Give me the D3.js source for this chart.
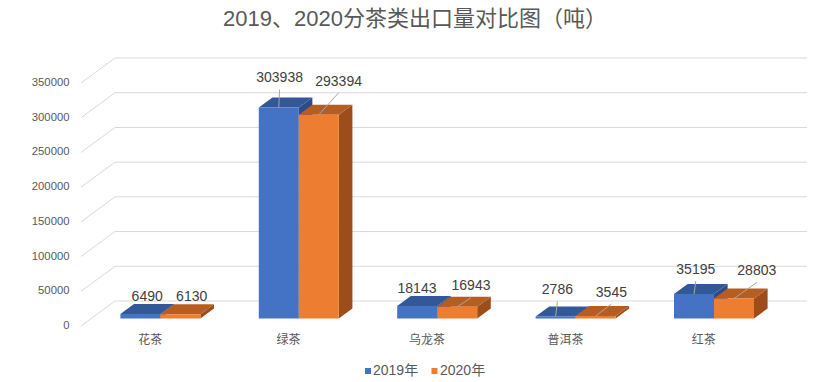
<!DOCTYPE html>
<html>
<head>
<meta charset="utf-8">
<script src="https://cdn.jsdelivr.net/npm/d3@7"></script>
<style>
  html, body { margin: 0; padding: 0; background: #fff; }
  svg { display: block; font-family: "Liberation Sans", "Noto Sans CJK SC", sans-serif; }
</style>
</head>
<body>
<svg id="chart" width="826" height="382"></svg>
<script>
// ---- data ----
const title = "2019、2020分茶类出口量对比图（吨）";
const categories = ["花茶", "绿茶", "乌龙茶", "普洱茶", "红茶"];
const seriesNames = ["2019年", "2020年"];
const values2019 = [6490, 303938, 18143, 2786, 35195];
const values2020 = [6130, 293394, 16943, 3545, 28803];
const yTicks = [0, 50000, 100000, 150000, 200000, 250000, 300000, 350000];

// ---- layout (not data) ----
const W = 826, H = 382;
const frontLeft = 81, frontRight = 773;
const DX = 34, DY = -25;           // full floor depth offset
const barD0 = 0.3, barD1 = 0.7;    // bars occupy this depth range
const barW = 40;
const colors = [
  { front: "#4472C4", top: "#335898", side: "#2B4C86" },
  { front: "#ED7D31", top: "#B65E22", side: "#9C4D19" }
];
// label nudges relative to bar top-face centre, and whether a leader line is drawn
const labelLayout = [
  [[0, -12, false], [-6, -24, true], [-7, -12, false], [-5, -21, true], [-5, -19, true]],
  [[4.5, -12, false], [13, -28, true], [7, -15, true], [9, -18, true], [16, -22, true]]
];

const svg = d3.select("#chart");
const x = d3.scaleBand().domain(categories).range([frontLeft, frontRight]);
const y = d3.scaleLinear().domain([0, 350000]).range([326, 83]);
const P = (px, v, d) => [px + d * DX, y(v) + d * DY];

const textColor = "#595959";
const grid = "#D9D9D9";

// title
svg.append("text").attr("x", 415).attr("y", 20).attr("text-anchor", "middle")
  .attr("dominant-baseline", "middle").attr("font-size", 22).attr("fill", textColor).text(title);

// gridlines: side wall diagonals and back wall
const g = svg.append("g");
yTicks.forEach(t => {
  const a = P(frontLeft, t, 0), b = P(frontLeft, t, 1), c = P(frontRight, t, 1);
  g.append("line").attr("x1", a[0]).attr("y1", a[1]).attr("x2", b[0]).attr("y2", b[1])
    .attr("stroke", grid).attr("stroke-width", 1);
  g.append("line").attr("x1", b[0]).attr("y1", b[1]).attr("x2", c[0]).attr("y2", c[1])
    .attr("stroke", grid).attr("stroke-width", 1);
  svg.append("text").attr("x", 69.5).attr("y", a[1]).attr("text-anchor", "end")
    .attr("dominant-baseline", "middle").attr("font-size", 11.3).attr("fill", textColor)
    .text(t);
});

// category labels
categories.forEach(c => {
  svg.append("text").attr("x", x(c) + x.bandwidth() / 2).attr("y", 341)
    .attr("text-anchor", "middle").attr("dominant-baseline", "middle")
    .attr("font-size", 12).attr("fill", textColor).text(c);
});

// bars
const series = [values2019, values2020];
const bars = svg.append("g");
const labelG = svg.append("g");
categories.forEach((c, i) => {
  const center = x(c) + x.bandwidth() / 2 + barD0 * DX;   // group center on bar front plane
  series.forEach((vals, s) => {
    const v = vals[i];
    const xl = center - barW + s * barW - barD0 * DX; // front-left at depth 0 coords
    const xr = xl + barW;
    const f0b = P(xl, 0, barD0), f0t = P(xl, v, barD0), f1b = P(xr, 0, barD0), f1t = P(xr, v, barD0);
    const b0t = P(xl, v, barD1), b1t = P(xr, v, barD1), b1b = P(xr, 0, barD1);
    const col = colors[s];
    bars.append("path").attr("d", d3.line()([f1b, f1t, b1t, b1b])).attr("fill", col.side);
    bars.append("path").attr("d", d3.line()([f0t, f1t, b1t, b0t])).attr("fill", col.top);
    bars.append("path").attr("d", d3.line()([f0b, f0t, f1t, f1b])).attr("fill", col.front);

    // data label
    const mid = P((xl + xr) / 2, v, (barD0 + barD1) / 2);
    const [nx, ny, leader] = labelLayout[s][i];
    const lx = mid[0] + nx, ly = mid[1] + ny;
    if (leader) {
      const ft = P((xl + xr) / 2, v, barD0);
      labelG.append("line").attr("x1", lx).attr("y1", ly + 11).attr("x2", ft[0]).attr("y2", ft[1])
        .attr("stroke", "#A6A6A6").attr("stroke-width", 1);
    }
    labelG.append("text").attr("x", lx).attr("y", ly).attr("text-anchor", "middle")
      .attr("dominant-baseline", "middle").attr("font-size", 14).attr("fill", "#404040").text(v);
  });
});

// legend
const legend = svg.append("g");
[[365, 373], [431.5, 440]].forEach(([sx, tx], s) => {
  legend.append("rect").attr("x", sx).attr("y", 368).attr("width", 6).attr("height", 6)
    .attr("fill", colors[s].front);
  legend.append("text").attr("x", tx).attr("y", 371.5).attr("dominant-baseline", "middle")
    .attr("font-size", 14).attr("fill", textColor).text(seriesNames[s]);
});
</script>
</body>
</html>
